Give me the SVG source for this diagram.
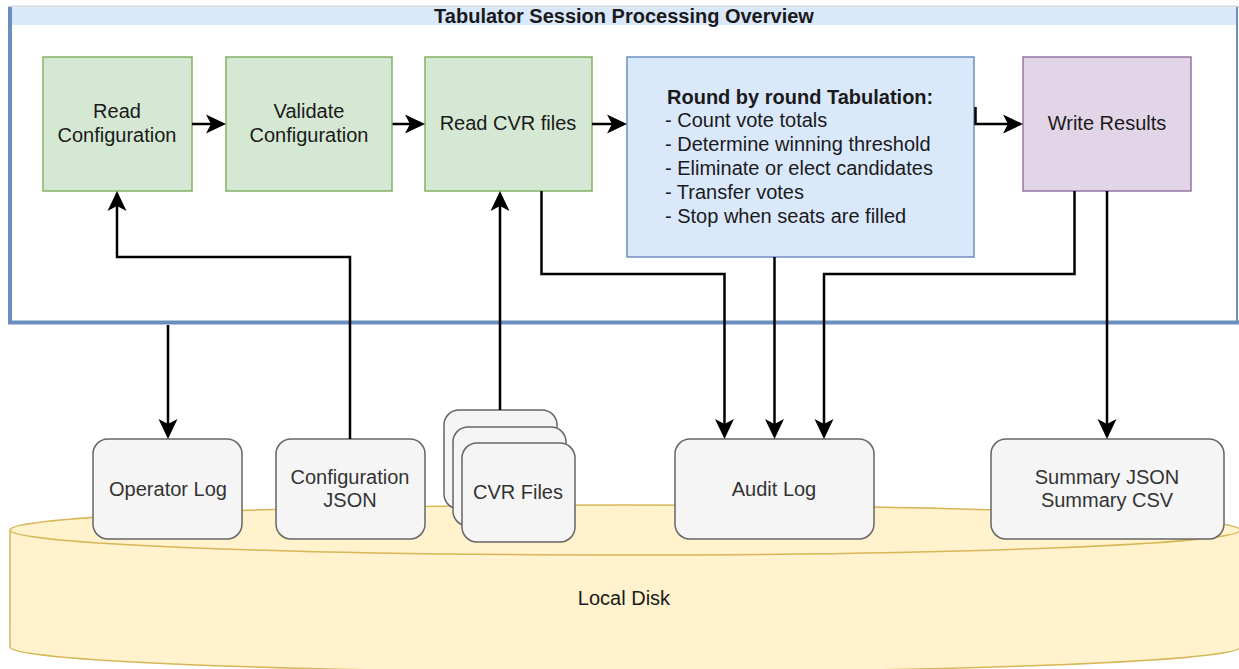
<svg xmlns="http://www.w3.org/2000/svg" width="1239" height="669" viewBox="0 0 1239 669">
  <style>
    .lbl { font-family: "Liberation Sans", Arial, Helvetica, sans-serif; font-size: 20px; fill: #1a1a1a; }
    .mid { text-anchor: middle; }
    .bold { font-weight: bold; }
    .gray-lbl { fill: #333333; }
    .step { fill: #d5e8d4; stroke: #82b366; stroke-width: 1.5; }
    .tab { fill: #dae8fc; stroke: #6c8ebf; stroke-width: 1.5; }
    .write { fill: #e1d5e7; stroke: #9673a6; stroke-width: 1.5; }
    .file { fill: #f5f5f5; stroke: #666666; stroke-width: 1.5; }
    .disk { fill: #fff2cc; stroke: #d6b656; stroke-width: 1.5; }
    .conn { fill: none; stroke: #000000; stroke-width: 2.5; marker-end: url(#arrow); }
  </style>
  <defs>
    <marker id="arrow" markerUnits="userSpaceOnUse" viewBox="0 0 20 20" markerWidth="20" markerHeight="20" refX="17" refY="10" orient="auto">
      <path d="M0,0.5 L20,10 L0,19.5 L5,10 Z" fill="#000000"/>
    </marker>
  </defs>

  <rect width="1239" height="669" fill="#ffffff"/>

  <!-- Local disk cylinder -->
  <g id="local-disk">
    <path class="disk" d="M10,530 A615,25 0 0 1 1240,530 L1240,647 A615,25 0 0 1 10,647 Z"/>
    <path class="disk" d="M10,530 A615,25 0 0 0 1240,530" fill="none"/>
    <text class="lbl mid" x="624" y="605">Local Disk</text>
  </g>

  <!-- Session container with title band -->
  <g id="session">
    <rect x="10" y="8" width="1227" height="314" fill="#ffffff"/>
    <rect x="10" y="8" width="1227" height="17" fill="#dae8fc"/>
    <line x1="8" y1="6.5" x2="1239" y2="6.5" stroke="#d3d9e4" stroke-width="2"/>
    <line x1="1237" y1="7" x2="1237" y2="323" stroke="#6c8ebf" stroke-width="2"/>
    <path d="M10,7 V322.5 H1239" fill="none" stroke="#6c8ebf" stroke-width="4"/>
    <text class="lbl mid bold" x="624" y="23">Tabulator Session Processing Overview</text>
  </g>

  <g id="read-config">
    <rect class="step" x="43" y="57" width="149" height="134"/>
    <text class="lbl mid" x="117" y="118">Read</text>
    <text class="lbl mid" x="117" y="142">Configuration</text>
  </g>

  <g id="validate-config">
    <rect class="step" x="226" y="57" width="166" height="134"/>
    <text class="lbl mid" x="309" y="118">Validate</text>
    <text class="lbl mid" x="309" y="142">Configuration</text>
  </g>

  <g id="read-cvr">
    <rect class="step" x="425" y="57" width="167" height="134"/>
    <text class="lbl mid" x="508" y="130">Read CVR files</text>
  </g>

  <g id="tabulation">
    <rect class="tab" x="627" y="57" width="347" height="200"/>
    <text class="lbl bold" x="667" y="104">Round by round Tabulation:</text>
    <text class="lbl" x="665" y="127">- Count vote totals</text>
    <text class="lbl" x="665" y="151">- Determine winning threshold</text>
    <text class="lbl" x="665" y="175">- Eliminate or elect candidates</text>
    <text class="lbl" x="665" y="199">- Transfer votes</text>
    <text class="lbl" x="665" y="223">- Stop when seats are filled</text>
  </g>

  <g id="write-results">
    <rect class="write" x="1023" y="57" width="168" height="134"/>
    <text class="lbl mid" x="1107" y="130">Write Results</text>
  </g>

  <g id="operator-log">
    <rect class="file" x="93" y="439" width="149" height="100" rx="15"/>
    <text class="lbl mid gray-lbl" x="168" y="496">Operator Log</text>
  </g>

  <g id="config-json">
    <rect class="file" x="276" y="439" width="149" height="100" rx="15"/>
    <text class="lbl mid gray-lbl" x="350" y="484">Configuration</text>
    <text class="lbl mid gray-lbl" x="350" y="507">JSON</text>
  </g>

  <g id="cvr-files">
    <rect class="file" x="444" y="410" width="113" height="99" rx="15"/>
    <rect class="file" x="453" y="427" width="113" height="99" rx="15"/>
    <rect class="file" x="462" y="443" width="113" height="99" rx="15"/>
    <text class="lbl mid gray-lbl" x="518" y="499">CVR Files</text>
  </g>

  <g id="audit-log">
    <rect class="file" x="675" y="439" width="199" height="100" rx="15"/>
    <text class="lbl mid gray-lbl" x="774" y="496">Audit Log</text>
  </g>

  <g id="summary">
    <rect class="file" x="991" y="439" width="233" height="100" rx="15"/>
    <text class="lbl mid gray-lbl" x="1107" y="484">Summary JSON</text>
    <text class="lbl mid gray-lbl" x="1107" y="507">Summary CSV</text>
  </g>

  <!-- Connectors -->
  <g id="connectors">
    <path class="conn" d="M192,124 H223"/>
    <path class="conn" d="M392.5,124 H422"/>
    <path class="conn" d="M592,124 H624"/>
    <path class="conn" d="M975.5,107 V124 H1020"/>
    <path class="conn" d="M350,439 V257 H117 V194"/>
    <path class="conn" d="M168,325 V436"/>
    <path class="conn" d="M500,410 V194"/>
    <path class="conn" d="M541.5,191 V274 H724.5 V436"/>
    <path class="conn" d="M774.5,257 V436"/>
    <path class="conn" d="M1074.5,191 V274 H824 V436"/>
    <path class="conn" d="M1107,191 V436"/>
  </g>
</svg>
